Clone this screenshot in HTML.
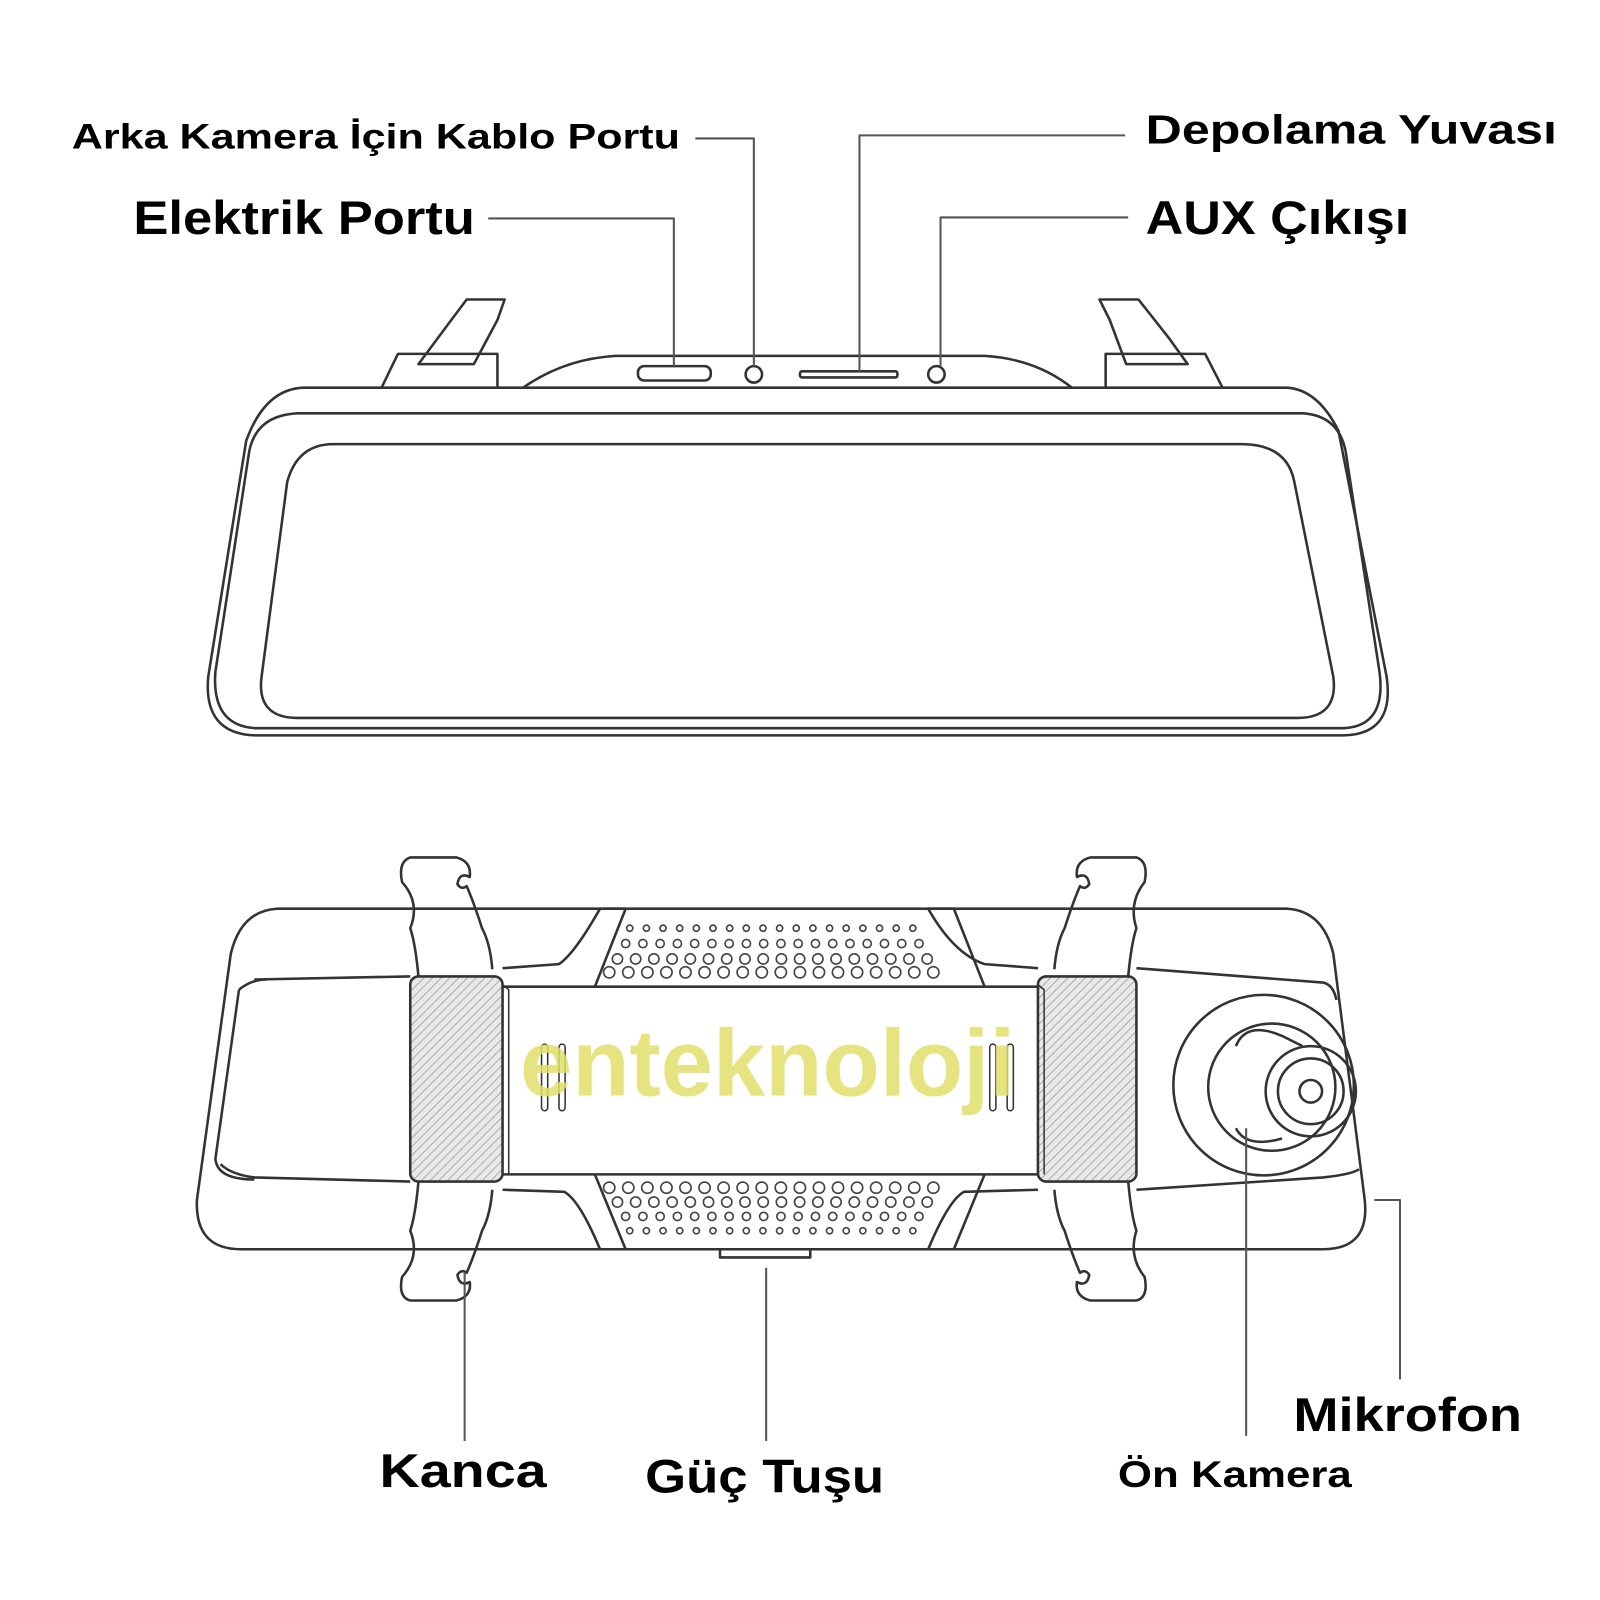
<!DOCTYPE html>
<html><head><meta charset="utf-8"><style>
html,body{margin:0;padding:0;background:#fff;}
svg{display:block}
text{font-family:"Liberation Sans",sans-serif;font-weight:bold;fill:#000}
</style></head><body>
<svg id="s" width="1600" height="1600" viewBox="0 0 1560 1560" xmlns="http://www.w3.org/2000/svg">
<defs>
<pattern id="h" width="6" height="6" patternUnits="userSpaceOnUse" patternTransform="rotate(45)">
<rect width="6" height="6" fill="#e8e8e8"/><line x1="0" y1="0" x2="0" y2="6" stroke="#999" stroke-width="1.5"/>
</pattern>
</defs>
<g fill="none" stroke="#333" stroke-width="2.5" stroke-linejoin="round">
<path d="M372,378 L388,345 L485,345 L485,378"/>
<path d="M408,355 L440,312 L455,292 L492,292 L485,312 L462,355 Z"/>
<path d="M1078,378 L1078,345 L1175,345 L1192,378"/>
<path d="M1098,355 L1082,312 L1072,292 L1110,292 L1140,330 L1158,355 Z"/>
<path d="M510,378 Q550,350 600,347 L960,347 Q1010,350 1045,378"/>
<rect x="622" y="357" width="71" height="14" rx="6"/>
<circle cx="735" cy="365" r="8"/>
<rect x="780" y="362" width="95" height="6" rx="2"/>
<circle cx="913" cy="365" r="8"/>
<path d="M295,378 L1255,378 Q1285,380 1305,420 L1352,660 Q1360,716 1310,717 L250,717 Q198,716 203,660 L240,430 Q258,380 295,378 Z"/>
<path d="M290,403 L1270,403 Q1305,405 1312,440 L1345,655 Q1352,708 1310,710 L250,710 Q206,708 210,655 L243,440 Q250,405 290,403 Z"/>
<path d="M325,433 L1210,433 Q1255,433 1262,470 L1300,660 Q1305,700 1265,700 L290,700 Q250,700 255,660 L280,470 Q290,433 325,433 Z"/>
<g stroke="#555" stroke-width="2">
<path d="M678,135 L735,135 L735,357"/>
<path d="M476,213 L657,213 L657,357"/>
<path d="M1097,132 L838,132 L838,362"/>
<path d="M1100,212 L917,212 L917,357"/>
</g>
<path d="M270,886 L1255,886 Q1290,888 1300,930 L1330,1165 Q1338,1218 1290,1218 L235,1218 Q190,1218 192,1170 L225,930 Q235,888 270,886 Z"/>
<path d="M248,955 L400,952 M490,944 L545,940 Q560,930 585,886"/>
<path d="M1108,944 L1290,958 Q1300,960 1303,975"/>
<path d="M905,886 Q930,930 960,940 L1012,944"/>
<path d="M233,965 Q245,955 260,955 M215,1135 Q225,1145 248,1148 L400,1152"/>
<path d="M490,1160 L550,1162 Q565,1170 585,1218 M905,1218 Q925,1170 940,1162 L1012,1160"/>
<path d="M1108,1160 L1290,1148 Q1318,1145 1325,1140"/>
<path d="M233,965 L210,1130 Q212,1150 248,1150"/>
<path d="M490,962 L1012,962 M490,1145 L1012,1145"/>
<path d="M585,886 L610,886 L580,962 M905,886 L930,886 L960,962"/>
<path d="M580,1145 L610,1218 M960,1145 L930,1218"/>
<rect x="400" y="952" width="90" height="200" rx="8" fill="url(#h)"/>
<rect x="1012" y="952" width="96" height="200" rx="8" fill="url(#h)"/>
<path d="M490,960 L496,965 L496,1145 M1012,960 L1018,965 L1018,1145" stroke-width="1.5"/>
<path d="M408,952 Q405,920 400,905 Q410,880 392,860 Q388,840 400,836 L445,836 Q460,840 458,855 Q448,850 446,862 Q450,868 455,864 Q462,880 470,905 Q478,920 480,945"/>
<path d="M1100,952 Q1103,920 1108,905 Q1100,880 1116,860 Q1120,840 1108,836 L1063,836 Q1048,840 1050,855 Q1060,850 1062,862 Q1058,868 1053,864 Q1046,880 1038,905 Q1030,920 1028,945"/>
<path d="M408,1152 Q405,1185 400,1200 Q410,1225 392,1245 Q388,1265 400,1268 L445,1268 Q460,1264 458,1250 Q448,1255 446,1243 Q450,1237 455,1241 Q462,1225 470,1200 Q478,1185 480,1160"/>
<path d="M1100,1152 Q1103,1185 1108,1200 Q1100,1225 1116,1245 Q1120,1265 1108,1268 L1063,1268 Q1048,1264 1050,1250 Q1060,1255 1062,1243 Q1058,1237 1053,1241 Q1046,1225 1038,1200 Q1030,1185 1028,1160"/>
<rect x="528" y="1018" width="6" height="65" rx="3" stroke-width="1.5"/>
<rect x="545" y="1018" width="6" height="65" rx="3" stroke-width="1.5"/>
<rect x="965" y="1018" width="6" height="65" rx="3" stroke-width="1.5"/>
<rect x="982" y="1018" width="6" height="65" rx="3" stroke-width="1.5"/>
<circle cx="1232" cy="1058" r="88"/>
<circle cx="1240" cy="1060" r="62"/>
<path d="M1205,1020 Q1215,995 1250,1010 L1270,1020 M1205,1100 Q1215,1120 1250,1110"/>
<circle cx="1278" cy="1064" r="44"/>
<circle cx="1278" cy="1064" r="32"/>
<circle cx="1278" cy="1064" r="11"/>
<rect x="702" y="1218" width="88" height="8"/>
<g stroke="#555" stroke-width="2">
<path d="M453,1240 L453,1405"/>
<path d="M747,1236 L747,1405"/>
<path d="M1215,1100 L1215,1400"/>
<path d="M1340,1170 L1365,1170 L1365,1345"/>
</g>
</g>
<g id="dots" fill="none" stroke="#444" stroke-width="1.6"></g>
<text x="507" y="1068" font-size="92" textLength="483" lengthAdjust="spacingAndGlyphs" style="fill:#e2df6a;fill-opacity:0.85">enteknoloji</text>
<text x="70" y="145" font-size="34" textLength="593" lengthAdjust="spacingAndGlyphs">Arka Kamera İçin Kablo Portu</text>
<text x="130" y="228" font-size="46" textLength="333" lengthAdjust="spacingAndGlyphs">Elektrik Portu</text>
<text x="1117" y="140" font-size="40" textLength="401" lengthAdjust="spacingAndGlyphs">Depolama Yuvası</text>
<text x="1117" y="228" font-size="46" textLength="257" lengthAdjust="spacingAndGlyphs">AUX Çıkışı</text>
<text x="370" y="1450" font-size="46" textLength="163" lengthAdjust="spacingAndGlyphs">Kanca</text>
<text x="629" y="1455" font-size="46" textLength="233" lengthAdjust="spacingAndGlyphs">Güç Tuşu</text>
<text x="1090" y="1450" font-size="36" textLength="228" lengthAdjust="spacingAndGlyphs">Ön Kamera</text>
<text x="1261" y="1395" font-size="46" textLength="223" lengthAdjust="spacingAndGlyphs">Mikrofon</text>
</svg>
<script>
var g=document.getElementById('dots'),ns='http://www.w3.org/2000/svg';
function row(y,x0,x1,n,r){for(var i=0;i<n;i++){var c=document.createElementNS(ns,'circle');c.setAttribute('cx',x0+(x1-x0)*i/(n-1));c.setAttribute('cy',y);c.setAttribute('r',r);g.appendChild(c);}}
row(905,614,890,18,3);row(920,610,896,18,4);row(935,602,904,18,5);row(948,594,910,18,5.5);
row(1158,594,910,18,5.5);row(1172,602,904,18,5);row(1186,610,896,18,4);row(1200,614,890,18,3);
</script>
</body></html>
